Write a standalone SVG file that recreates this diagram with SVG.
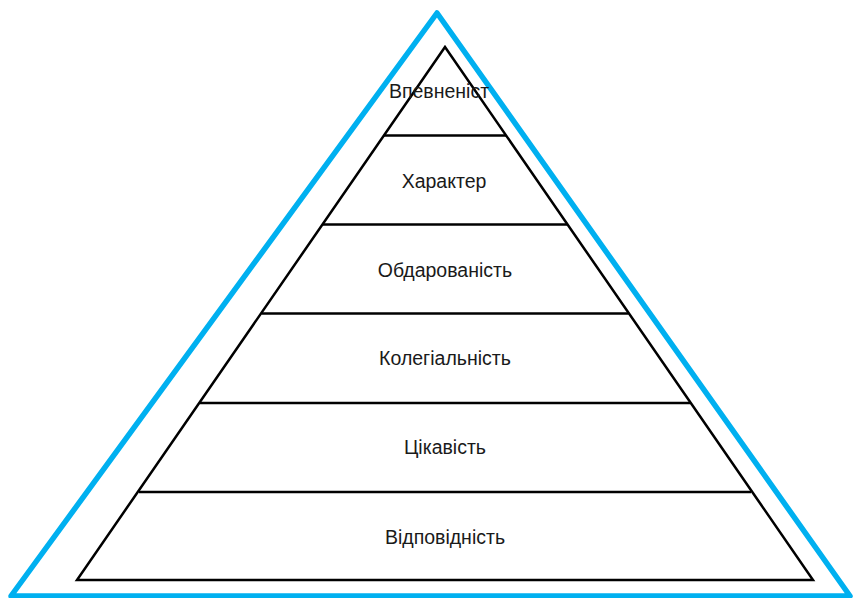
<svg xmlns="http://www.w3.org/2000/svg" width="854" height="598" viewBox="0 0 854 598">
<style>
.frame{fill:none;stroke:#00B0F0;stroke-width:5.5;stroke-linejoin:round}
.tri{fill:none;stroke:#000;stroke-width:2.5;stroke-linejoin:miter}
.sep{stroke:#000;stroke-width:2.5}
.lbl{font-family:"Liberation Sans",Arial,sans-serif;font-size:19.5px;fill:#1a1a1a;text-anchor:middle}
</style>
<rect width="854" height="598" fill="#fff"/>
<g id="frame"><polygon class="frame" points="437,13 850,596 11,596"/></g>
<g id="pyramid"><polygon class="tri" points="445,47 813,580 77,580"/></g>
<g id="connectors">
<line class="sep" x1="384" y1="135.5" x2="506" y2="135.5"/>
<line class="sep" x1="323" y1="224.5" x2="567" y2="224.5"/>
<line class="sep" x1="261.5" y1="313.5" x2="628.5" y2="313.5"/>
<line class="sep" x1="200" y1="403" x2="690" y2="403"/>
<line class="sep" x1="139" y1="492" x2="751" y2="492"/>
</g>
<g id="level1"><text class="lbl" x="439" y="98">Впевненіст</text></g>
<g id="level2"><text class="lbl" x="444" y="188">Характер</text></g>
<g id="level3"><text class="lbl" x="445" y="277">Обдарованість</text></g>
<g id="level4"><text class="lbl" x="445" y="365">Колегіальність</text></g>
<g id="level5"><text class="lbl" x="445" y="454">Цікавість</text></g>
<g id="level6"><text class="lbl" x="445" y="544">Відповідність</text></g>
</svg>
